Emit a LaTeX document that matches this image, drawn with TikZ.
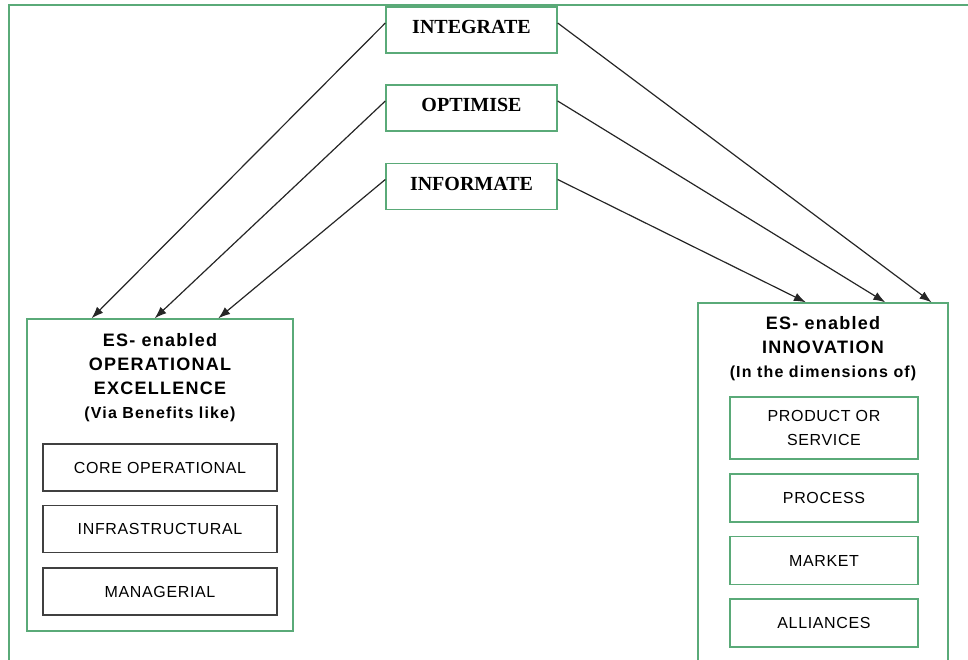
\documentclass[tikz,border=0pt]{standalone}
\usepackage{fontspec}
\setmainfont{Liberation Serif}
\setsansfont{Liberation Sans}
\newfontfamily\headfont{Liberation Sans}[LetterSpace=7]
\newfontfamily\itemfont{Liberation Sans}[LetterSpace=4]
\usetikzlibrary{calc,arrows.meta}
\definecolor{boxgreen}{RGB}{90,170,120}
\begin{document}
\begin{tikzpicture}[x=0.75pt,y=-0.75pt,
  top node/.style={draw=boxgreen,line width=1pt,inner sep=0pt,minimum width=128.25pt,minimum height=34.5pt,
    font=\fontsize{15}{18}\selectfont\bfseries,text height=10pt,text depth=4.5pt},
  big node/.style={draw=boxgreen,line width=1pt,inner sep=0pt},
  head node/.style={anchor=north,inner sep=0pt,align=center,font=\headfont\bfseries\fontsize{13.5}{18}\selectfont},
  black node/.style={draw=black!75,line width=1pt,inner sep=0pt,minimum width=175.5pt,minimum height=35.25pt,
    font=\itemfont\fontsize{12}{18}\selectfont},
  green node/.style={draw=boxgreen,line width=1pt,inner sep=0pt,minimum width=141pt,minimum height=36pt,
    align=center,font=\itemfont\fontsize{12}{18}\selectfont},
  link/.style={-{Latex[length=9pt,width=6.5pt]},line width=0.9pt,black!85}]

  \useasboundingbox (0,0) rectangle (968,660);
  \clip (0,0) rectangle (968,660);
  \draw[boxgreen,line width=1pt] (9,5) rectangle (990,690);

  \node[top node] (integrate) at (471.5,30) {INTEGRATE};
  \node[top node] (optimise) at (471.5,108) {OPTIMISE};
  \node[top node] (informate) at (471.5,186.5) {INFORMATE};

  % operational excellence side
  \node[big node,minimum width=199.5pt,minimum height=234pt] (opex) at (160,475) {};
  \node[head node] (opexhead) at (160,333.5)
    {ES- enabled\\OPERATIONAL\\EXCELLENCE\\{\fontsize{12}{18}\selectfont(Via Benefits like)}};
  \node[black node] (core) at (160,467.5) {CORE OPERATIONAL};
  \node[black node] (infra) at (160,529) {INFRASTRUCTURAL};
  \node[black node] (manag) at (160,591.5) {MANAGERIAL};

  % innovation side
  \node[big node,minimum width=187.5pt,minimum height=282.75pt] (innov) at (823,491.5) {};
  \node[head node] (innovhead) at (823,316.5)
    {ES- enabled\\INNOVATION\\{\fontsize{12}{18}\selectfont(In the dimensions of)}};
  \node[green node,minimum height=46.5pt] (product) at (824,428) {PRODUCT OR\\SERVICE};
  \node[green node] (process) at (824,498) {PROCESS};
  \node[green node] (market) at (824,560.5) {MARKET};
  \node[green node] (alliance) at (824,623) {ALLIANCES};

  \path[link]
   ([yshift=5.25pt]integrate.west) edge ($(opex.north west)!0.244!(opex.north east)$)
   ([yshift=5.25pt]optimise.west) edge ($(opex.north west)!0.48!(opex.north east)$)
   ([yshift=5.25pt]informate.west) edge ($(opex.north west)!0.718!(opex.north east)$)
   ([yshift=5.25pt]integrate.east) edge ($(innov.north west)!0.932!(innov.north east)$)
   ([yshift=5.25pt]optimise.east) edge ($(innov.north west)!0.748!(innov.north east)$)
   ([yshift=5.25pt]informate.east) edge ($(innov.north west)!0.432!(innov.north east)$);
\end{tikzpicture}
\end{document}
